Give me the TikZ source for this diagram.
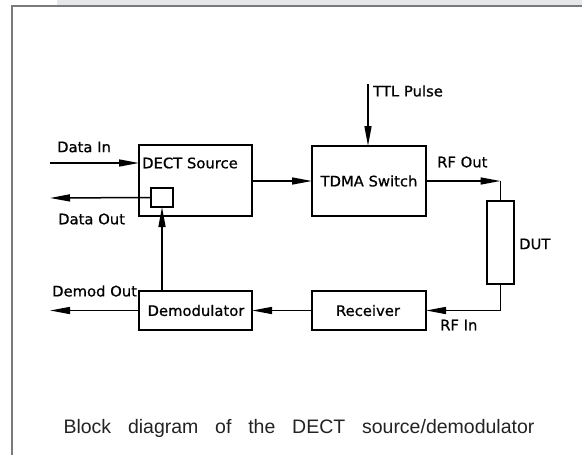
\documentclass[tikz,border=0pt]{standalone}
\usepackage{fontspec}
\setmainfont{DejaVu Sans}[FakeStretch=1.02, FakeBold=0.8]
\newfontfamily\capfont[WordSpace=3.1]{Liberation Sans}
\usetikzlibrary{arrows.meta}
\definecolor{band}{HTML}{E6E7E9}
\definecolor{framec}{HTML}{7A7A7A}
\definecolor{capc}{HTML}{222222}
\begin{document}
\begin{tikzpicture}[x=1pt,y=-1pt,
  blk/.style={draw, line width=1.5pt, inner sep=0pt, outer sep=0pt},
  conn/.style={line width=1.5pt},
  arr/.style={line width=1.5pt, -{Triangle[length=20pt,width=7pt]}},
  lbl/.style={inner sep=0pt, font=\fontsize{14.5}{16}\selectfont},
]
\useasboundingbox (0,0) rectangle (582,455);
\fill[band] (57,0) rectangle (582,5);
\draw[framec, line width=1.8pt] (12,455) -- (12,6) -- (582,6);

% blocks
\node[blk, minimum width=113pt, minimum height=71pt] (dect) at (195.5,180.5) {};
\node[blk, minimum width=22pt, minimum height=19pt] (sq) at (162,197.5) {};
\node[blk, minimum width=114pt, minimum height=70pt] (tdma) at (369,181) {};
\node[blk, minimum width=114pt, minimum height=39pt] (rec) at (369,310.5) {};
\node[blk, minimum width=113pt, minimum height=39pt] (dem) at (195.5,310.5) {};
\node[blk, minimum width=27pt, minimum height=83pt] (dut) at (500.5,242.5) {};

% texts in blocks
\node[lbl, anchor=west] (dectt) at (142,163) {DECT Source};
\node[lbl] (tdmat) at (369,181) {TDMA Switch};
\node[lbl] (rect) at (368,310.5) {Receiver};
\node[lbl] (demt) at (196,310.5) {Demodulator};

% free ends
\coordinate (din) at (50,163);
\coordinate (dout) at (50,198);
\coordinate (dmo) at (50,310.5);
\coordinate (ttl) at (368,84);
\coordinate (rfo) at (tdma.east -| dut.north);

% connectors
\draw[arr] (din) -- (din -| dect.west);
\draw[arr] (sq.west) -- (dout);
\draw[arr] (sq.south |- dem.north) -- (sq.south);
\draw[arr] (dect.east |- tdma.west) -- (tdma.west);
\draw[arr] (ttl) -- (ttl |- tdma.north);
\draw[arr] (tdma.east) -- (rfo);
\draw[conn] (rfo) -- (dut.north);
\draw[arr] (dut.south) |- (rec.east);
\draw[arr] (rec.west) -- (dem.east);
\draw[arr] (dem.west) -- (dmo);

% labels
\node[lbl, anchor=west] (l1) at (57,147) {Data In};
\node[lbl, anchor=west] (l2) at (58,219) {Data Out};
\node[lbl, anchor=west] (l3) at (373,91) {TTL Pulse};
\node[lbl, anchor=west] (l4) at (437,162) {RF Out};
\node[lbl, anchor=west] (l5) at (519,244) {DUT};
\node[lbl, anchor=west] (l6) at (440,325) {RF In};
\node[lbl, anchor=west] (l7) at (52,291) {Demod Out};

\node[inner sep=0pt, text=capc, font=\capfont\fontsize{19.5}{22}\selectfont] (cap) at (299,428) {Block diagram of the DECT source/demodulator};
\end{tikzpicture}
\end{document}
